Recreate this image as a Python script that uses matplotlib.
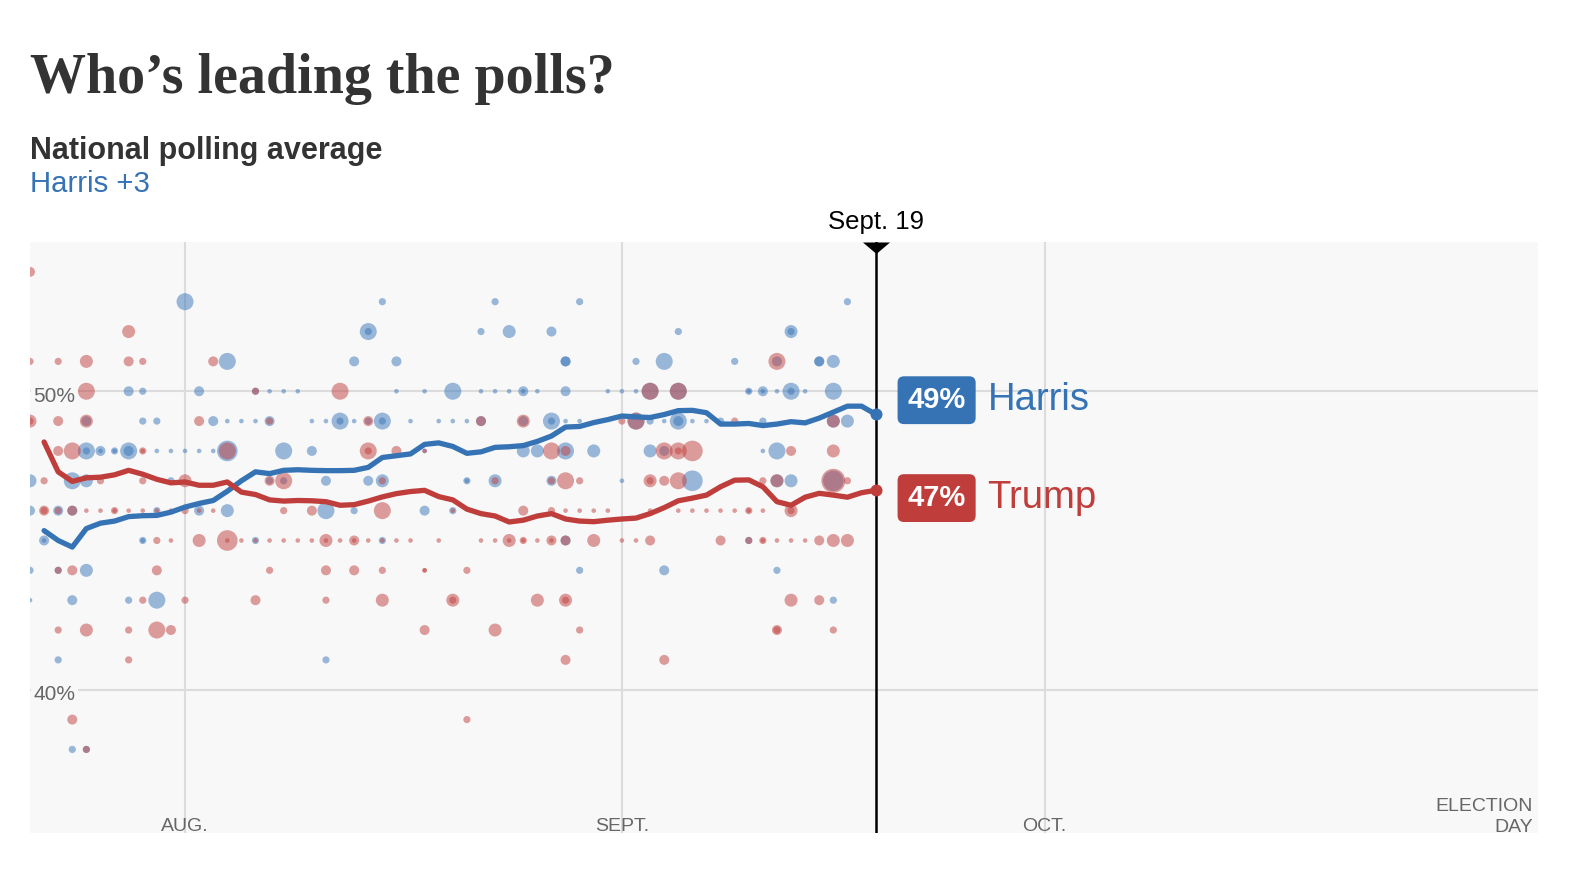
import numpy as np
import matplotlib
matplotlib.use("Agg")
import matplotlib.pyplot as plt
import matplotlib.dates as mdates

# ---------------- data ----------------
START = "2024-07-21"          # day 0 of the series
ELECTION = "2024-11-05"
TODAY = "2024-09-19"
today_label = "Sept. 19"
month_ticks = ["2024-08-01", "2024-09-01", "2024-10-01"]
month_labels = ["AUG.", "SEPT.", "OCT."]
y_ticks = [40, 50]

# individual polls: (day since START, percent, poll weight 1-7)
harris_polls = [
    (11, 53, 5), (25, 53, 2), (33, 53, 2), (39, 53, 2), (58, 53, 2),
    (24, 52, 5), (24, 52, 2), (32, 52, 2), (34, 52, 4), (37, 52, 3), (46, 52, 2), (54, 52, 4), (54, 52, 2),
    (14, 51, 5), (23, 51, 3), (26, 51, 3), (38, 51, 3), (38, 51, 3), (43, 51, 2), (45, 51, 5), (50, 51, 2),
    (53, 51, 3), (56, 51, 3), (56, 51, 3), (57, 51, 4),
    (7, 50, 3), (8, 50, 2), (12, 50, 3), (16, 50, 2), (17, 50, 1), (18, 50, 1), (19, 50, 1), (26, 50, 1),
    (28, 50, 1), (30, 50, 5), (32, 50, 1), (33, 50, 1), (34, 50, 1), (35, 50, 3), (35, 50, 1), (36, 50, 1),
    (38, 50, 3), (41, 50, 1), (42, 50, 1), (43, 50, 1), (44, 50, 5), (46, 50, 5), (51, 50, 2), (51, 50, 1),
    (52, 50, 3), (52, 50, 1), (53, 50, 1), (54, 50, 5), (54, 50, 2), (55, 50, 1), (57, 50, 5),
    (4, 49, 3), (8, 49, 2), (9, 49, 2), (13, 49, 3), (14, 49, 1), (15, 49, 1), (16, 49, 1), (17, 49, 3),
    (20, 49, 1), (21, 49, 1), (22, 49, 5), (22, 49, 2), (23, 49, 1), (24, 49, 2), (25, 49, 5), (25, 49, 2),
    (27, 49, 1), (29, 49, 1), (30, 49, 1), (31, 49, 1), (32, 49, 3), (35, 49, 3), (37, 49, 5), (37, 49, 2),
    (38, 49, 1), (39, 49, 1), (43, 49, 5), (44, 49, 2), (45, 49, 1), (46, 49, 5), (46, 49, 3), (47, 49, 1),
    (48, 49, 1), (49, 49, 2), (52, 49, 2), (57, 49, 4), (58, 49, 4),
    (4, 48, 5), (4, 48, 2), (5, 48, 3), (5, 48, 1), (6, 48, 2), (6, 48, 1), (7, 48, 5), (7, 48, 3),
    (9, 48, 1), (10, 48, 1), (11, 48, 1), (12, 48, 1), (13, 48, 1), (14, 48, 6), (18, 48, 5), (20, 48, 3),
    (28, 48, 1), (35, 48, 4), (36, 48, 4), (38, 48, 5), (40, 48, 4), (44, 48, 4), (45, 48, 3), (52, 48, 1),
    (53, 48, 5),
    (0, 47, 4), (3, 47, 5), (4, 47, 4), (10, 47, 2), (17, 47, 2), (18, 47, 2), (21, 47, 3), (24, 47, 3),
    (25, 47, 4), (31, 47, 2), (31, 47, 1), (33, 47, 4), (37, 47, 3), (42, 47, 1), (47, 47, 6), (53, 47, 4),
    (54, 47, 4), (57, 47, 6),
    (0, 46, 3), (2, 46, 3), (3, 46, 3), (9, 46, 2), (12, 46, 3), (14, 46, 4), (21, 46, 5), (23, 46, 2),
    (28, 46, 3), (30, 46, 2),
    (1, 45, 3), (1, 45, 1), (8, 45, 2), (8, 45, 1), (16, 45, 2), (25, 45, 2), (38, 45, 3), (51, 45, 2),
    (0, 44, 2), (2, 44, 2), (4, 44, 4), (39, 44, 2), (45, 44, 3), (53, 44, 2),
    (0, 43, 1), (3, 43, 3), (7, 43, 2), (9, 43, 5), (57, 43, 2),
    (2, 41, 2), (21, 41, 2),
    (3, 38, 2), (4, 38, 2),
]

trump_polls = [
    (0, 54, 3),
    (7, 52, 4),
    (0, 51, 2), (2, 51, 2), (4, 51, 4), (7, 51, 3), (8, 51, 2), (13, 51, 3), (53, 51, 5),
    (4, 50, 5), (16, 50, 2), (22, 50, 5), (44, 50, 5), (46, 50, 5),
    (0, 49, 4), (0, 49, 2), (2, 49, 3), (4, 49, 4), (12, 49, 3), (17, 49, 2), (24, 49, 3), (32, 49, 3),
    (35, 49, 4), (42, 49, 2), (43, 49, 5), (50, 49, 2), (57, 49, 4),
    (2, 48, 3), (3, 48, 5), (8, 48, 2), (8, 48, 1), (14, 48, 5), (24, 48, 5), (24, 48, 2), (26, 48, 3),
    (28, 48, 1), (37, 48, 5), (38, 48, 3), (45, 48, 5), (46, 48, 5), (46, 48, 2), (47, 48, 6), (54, 48, 3),
    (57, 48, 4),
    (1, 47, 2), (5, 47, 2), (8, 47, 2), (11, 47, 4), (17, 47, 3), (18, 47, 5), (25, 47, 2), (33, 47, 2),
    (37, 47, 2), (38, 47, 5), (39, 47, 2), (44, 47, 4), (44, 47, 2), (45, 47, 3), (46, 47, 5), (52, 47, 2),
    (53, 47, 4), (57, 47, 7), (58, 47, 2),
    (1, 46, 3), (1, 46, 2), (2, 46, 2), (3, 46, 3), (4, 46, 1), (5, 46, 1), (6, 46, 2), (6, 46, 1),
    (7, 46, 1), (8, 46, 1), (9, 46, 1), (10, 46, 1), (11, 46, 2), (12, 46, 1), (13, 46, 1), (18, 46, 2),
    (20, 46, 3), (25, 46, 5), (30, 46, 1), (35, 46, 3), (37, 46, 2), (38, 46, 1), (39, 46, 1), (40, 46, 1),
    (41, 46, 1), (44, 46, 1), (46, 46, 1), (47, 46, 1), (48, 46, 1), (49, 46, 1), (50, 46, 1), (51, 46, 2),
    (51, 46, 1), (52, 46, 1), (54, 46, 4), (54, 46, 2),
    (9, 45, 2), (10, 45, 1), (12, 45, 4), (14, 45, 6), (14, 45, 1), (15, 45, 1), (16, 45, 1), (17, 45, 1),
    (18, 45, 1), (19, 45, 1), (20, 45, 1), (21, 45, 4), (21, 45, 1), (22, 45, 1), (23, 45, 3), (23, 45, 1),
    (24, 45, 1), (25, 45, 1), (26, 45, 1), (27, 45, 1), (29, 45, 1), (32, 45, 1), (33, 45, 1), (34, 45, 4),
    (34, 45, 1), (35, 45, 2), (35, 45, 1), (36, 45, 1), (37, 45, 3), (37, 45, 1), (38, 45, 3), (40, 45, 4),
    (42, 45, 1), (43, 45, 1), (44, 45, 3), (49, 45, 3), (51, 45, 2), (52, 45, 2), (52, 45, 1), (53, 45, 1),
    (54, 45, 1), (55, 45, 1), (56, 45, 3), (57, 45, 4), (58, 45, 4),
    (2, 44, 2), (3, 44, 3), (9, 44, 3), (17, 44, 2), (21, 44, 3), (23, 44, 3), (25, 44, 2), (28, 44, 1),
    (28, 44, 1), (31, 44, 2),
    (8, 43, 2), (11, 43, 2), (16, 43, 3), (21, 43, 2), (25, 43, 4), (30, 43, 4), (30, 43, 2), (36, 43, 4),
    (38, 43, 4), (38, 43, 2), (54, 43, 4), (56, 43, 3),
    (2, 42, 2), (4, 42, 4), (7, 42, 2), (9, 42, 5), (10, 42, 3), (28, 42, 3), (33, 42, 4), (39, 42, 2),
    (53, 42, 3), (53, 42, 2), (57, 42, 2),
    (7, 41, 2), (38, 41, 3), (45, 41, 3),
    (3, 39, 3), (31, 39, 2),
    (4, 38, 2),
]

# polling averages, days 1..60 since START
avg_days = list(range(1, 61))
harris_avg = [45.33, 45.00, 44.78, 45.40, 45.58, 45.65, 45.80, 45.83, 45.84, 45.95,
              46.12, 46.24, 46.34, 46.65, 47.00, 47.30, 47.24, 47.35, 47.37, 47.35,
              47.34, 47.34, 47.35, 47.45, 47.78, 47.84, 47.90, 48.22, 48.27, 48.15,
              47.92, 47.97, 48.12, 48.14, 48.18, 48.32, 48.50, 48.80, 48.82, 48.95,
              49.05, 49.17, 49.14, 49.12, 49.22, 49.35, 49.36, 49.28, 48.90, 48.90,
              48.92, 48.85, 48.90, 48.98, 48.94, 49.10, 49.30, 49.50, 49.50, 49.23]
trump_avg = [48.30, 47.30, 46.98, 47.10, 47.12, 47.20, 47.35, 47.22, 47.05, 46.93,
             46.96, 46.85, 46.85, 46.96, 46.62, 46.54, 46.36, 46.32, 46.34, 46.33,
             46.30, 46.18, 46.20, 46.32, 46.46, 46.57, 46.64, 46.68, 46.47, 46.36,
             46.05, 45.90, 45.82, 45.62, 45.68, 45.82, 45.90, 45.72, 45.65, 45.63,
             45.68, 45.72, 45.75, 45.90, 46.10, 46.33, 46.42, 46.52, 46.80, 47.02,
             47.03, 46.80, 46.30, 46.18, 46.45, 46.58, 46.52, 46.45, 46.60, 46.68]
candidates = ["Harris", "Trump"]
latest_pct = [49, 47]
label_pct = [49.7, 46.42]        # label anchor heights (nudged apart)
headline = "Harris +3"

# ---------------- style ----------------
BLUE = "#3673b5"
RED = "#bf3d3b"
DOT_BLUE = "#3a75b8"
DOT_RED = "#c0403e"
BG = "#f8f8f8"
GRID = "#dcdcdc"
GRAYTXT = "#666666"
W_RADIUS = {1: 2.3, 2: 3.6, 3: 5.0, 4: 6.5, 5: 8.5, 6: 10.3, 7: 12.0}   # px
SANS = ["Liberation Sans", "DejaVu Sans"]
NARROW = ["Liberation Sans Narrow", "Liberation Sans", "DejaVu Sans"]

W, H, DPI = 1572, 884, 100
fig = plt.figure(figsize=(W / DPI, H / DPI), dpi=DPI)
fig.patch.set_facecolor("white")
ax = fig.add_axes([30 / W, (H - 833) / H, (1538 - 30) / W, (833 - 242) / H])
ax.set_facecolor(BG)
for s in ax.spines.values():
    s.set_visible(False)

start = np.datetime64(START)


def to_num(days):
    return mdates.date2num(start + np.asarray(days).astype("timedelta64[D]"))


x_end = mdates.date2num(np.datetime64(ELECTION))
x_today = mdates.date2num(np.datetime64(TODAY))
ax.set_xlim(to_num([0])[0], x_end)
ax.set_ylim(35.2, 55.0)

tick_x = mdates.date2num(np.array(month_ticks, dtype="datetime64[D]"))
ax.set_xticks(tick_x)
ax.set_yticks(y_ticks)
ax.tick_params(length=0, labelbottom=False, labelleft=False)
ax.grid(True, color=GRID, lw=1.5, zorder=0)
ax.set_axisbelow(True)


def px2pt(p):
    return p * 72 / DPI


def draw_polls(polls, color):
    d = np.array([p[0] for p in polls])
    v = np.array([p[1] for p in polls])
    r = np.array([W_RADIUS[p[2]] for p in polls])
    ax.scatter(to_num(d), v, s=(2 * px2pt(r)) ** 2, color=color, alpha=0.5,
               linewidths=0, zorder=3)


draw_polls(harris_polls, DOT_BLUE)
draw_polls(trump_polls, DOT_RED)

# today marker
ax.axvline(x_today, color="black", lw=1.8, zorder=4)
tri = [(-1, 0), (1, 0), (0, -0.85)]
ax.plot([x_today], [1], marker=tri, ms=px2pt(27), color="black", mec="none",
        transform=ax.get_xaxis_transform(), clip_on=False, zorder=8)
ax.annotate(today_label, xy=(x_today, 1), xycoords=("data", "axes fraction"),
            xytext=(0, px2pt(13)), textcoords="offset points", ha="center", va="baseline",
            fontsize=18.5, family=SANS, color="black")

# averages
xa = to_num(avg_days)
for vals, col in ((harris_avg, BLUE), (trump_avg, RED)):
    ax.plot(xa, vals, color=col, lw=px2pt(5.3), solid_capstyle="round",
            solid_joinstyle="round", zorder=5)
    ax.scatter([xa[-1]], [vals[-1]], s=(2 * px2pt(6)) ** 2, color=col, linewidths=0, zorder=6)

# end labels
for name, pct, ly, col in zip(candidates, latest_pct, label_pct, (BLUE, RED)):
    ax.annotate(f"{pct}%", xy=(x_today, ly), xycoords="data",
                xytext=(px2pt(61), 0), textcoords="offset points", ha="center", va="center",
                fontsize=21, fontweight="bold", family=SANS, color="white",
                bbox=dict(boxstyle="round,pad=0.34,rounding_size=0.22", fc=col, ec="none"),
                zorder=9)
    ax.annotate(name, xy=(x_today, ly), xycoords="data",
                xytext=(px2pt(112), 0), textcoords="offset points", ha="left", va="center",
                fontsize=27.5, family=SANS, color=col, zorder=9)

# y labels
for v in y_ticks:
    ax.annotate(f"{v}%", xy=(0, v), xycoords=("axes fraction", "data"),
                xytext=(px2pt(3), px2pt(-10.5)), textcoords="offset points",
                ha="left", va="baseline", fontsize=15, family=SANS, color=GRAYTXT,
                bbox=dict(boxstyle="square,pad=0.12", fc=BG, ec="none"), zorder=1)

# x labels
for tx, lab in zip(tick_x, month_labels):
    ax.annotate(lab, xy=(tx, 0), xycoords=("data", "axes fraction"),
                xytext=(0, px2pt(2)), textcoords="offset points", ha="center",
                va="baseline", fontsize=14, family=NARROW, color=GRAYTXT)
for txt, off in (("ELECTION", 22), ("DAY", 1)):
    ax.annotate(txt, xy=(x_end, 0), xycoords=("data", "axes fraction"),
                xytext=(px2pt(-5), px2pt(off)), textcoords="offset points", ha="right",
                va="baseline", fontsize=14, family=NARROW, color=GRAYTXT)

# titles
fig.text(30 / W, (H - 93) / H, "Who\u2019s leading the polls?", ha="left", va="baseline",
         fontsize=40.3, fontweight="bold", family=["Liberation Serif", "DejaVu Serif"],
         color="#333333")
fig.text(30 / W, (H - 159) / H, "National polling average", ha="left", va="baseline",
         fontsize=22, fontweight="bold", family=SANS, color="#333333")
fig.text(30 / W, (H - 192) / H, headline, ha="left", va="baseline",
         fontsize=21.2, family=SANS, color=BLUE)

fig.savefig("out.png", dpi=DPI, facecolor="white")
